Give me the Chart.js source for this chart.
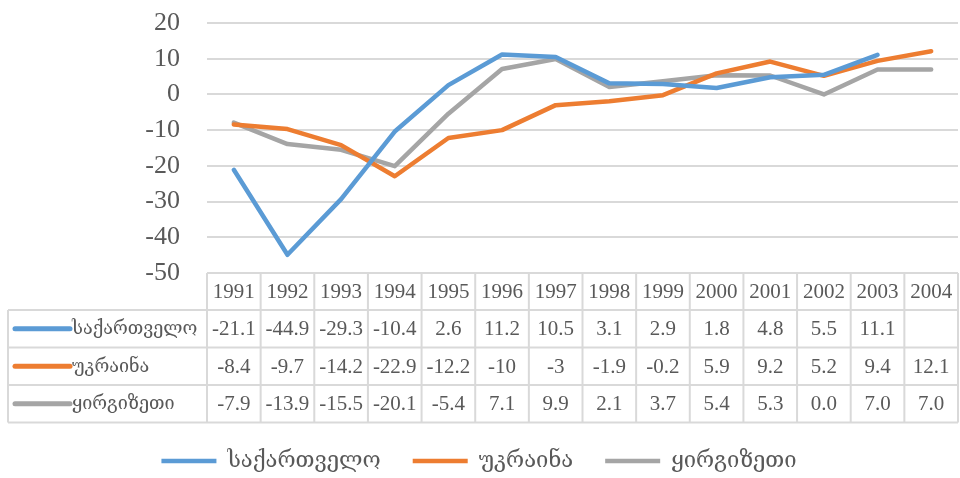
<!DOCTYPE html>
<html>
<head>
<meta charset="utf-8">
<script src="https://cdn.jsdelivr.net/npm/chart.js@4"></script>
<style>
    html, body { margin: 0; padding: 0; background: #fff; }
    #wrap { width: 960px; height: 478px; }
</style>
</head>
<body>
<div id="wrap"><canvas id="chart"></canvas></div>
<script>
// --- Data ---
const years = ['1991', '1992', '1993', '1994', '1995', '1996', '1997', '1998', '1999', '2000', '2001', '2002', '2003', '2004'];
const georgia = [-21.1, -44.9, -29.3, -10.4, 2.6, 11.2, 10.5, 3.1, 2.9, 1.8, 4.8, 5.5, 11.1, null];
const ukraine = [-8.4, -9.7, -14.2, -22.9, -12.2, -10, -3, -1.9, -0.2, 5.9, 9.2, 5.2, 9.4, 12.1];
const kyrgyzstan = [-7.9, -13.9, -15.5, -20.1, -5.4, 7.1, 9.9, 2.1, 3.7, 5.4, 5.3, 0.0, 7.0, 7.0];
const seriesNames = ['საქართველო', 'უკრაინა', 'ყირგიზეთი'];
const yMin = -50, yMax = 20, yStep = 10;

const colors = ['#5b9bd5', '#ed7d31', '#a5a5a5'];
const textColor = '#595959';
const gridColor = '#d9d9d9';
const fontFamily = '"Liberation Serif", "DejaVu Serif", serif';

// table cell text: kyrgyz row keeps one decimal like the source sheet
function cellText(seriesIndex, v) {
    if (v === null) return '';
    return seriesIndex === 2 ? v.toFixed(1) : String(v);
}

// --- Data table under the plot ---
const dataTable = {
    id: 'dataTable',
    beforeInit(chart) {
        // keep the legend block a fixed height
        const fit = chart.legend.fit;
        chart.legend.fit = function () {
            fit.call(this);
            this.height = 60;
        };
    },
    afterDraw(chart) {
        const ctx = chart.ctx;
        const x = chart.scales.x;
        const top = chart.chartArea.bottom;
        const left = 8;
        const colW = (x.right - x.left) / years.length;
        const rowH = [37, 37.5, 37.5, 37.5];
        const rows = chart.data.datasets;
        let bottom = top + rowH.reduce((a, b) => a + b, 0);

        ctx.save();
        ctx.strokeStyle = gridColor;
        ctx.lineWidth = 2;

        // horizontal lines
        let y = top;
        ctx.beginPath();
        ctx.moveTo(x.left, y); ctx.lineTo(x.right, y);
        rowH.forEach((h) => {
            y += h;
            ctx.moveTo(left, y); ctx.lineTo(x.right, y);
        });
        // vertical lines
        for (let i = 0; i <= years.length; i++) {
            const cx = x.left + i * colW;
            ctx.moveTo(cx, top); ctx.lineTo(cx, bottom);
        }
        ctx.moveTo(left, top + rowH[0]); ctx.lineTo(left, bottom);
        ctx.stroke();

        ctx.fillStyle = textColor;
        ctx.textAlign = 'center';
        ctx.textBaseline = 'middle';
        ctx.font = '21px ' + fontFamily;

        // header
        years.forEach((yr, i) => {
            ctx.fillText(yr, x.getPixelForValue(i), top + rowH[0] / 2 + 1);
        });

        // body rows
        let rowTop = top + rowH[0];
        rows.forEach((ds, r) => {
            const cy = rowTop + rowH[r + 1] / 2 + 1;
            ctx.font = '21px ' + fontFamily;
            ds.data.forEach((v, i) => {
                ctx.fillText(cellText(r, v), x.getPixelForValue(i), cy);
            });
            // key line + name
            ctx.strokeStyle = ds.borderColor;
            ctx.lineWidth = 5;
            ctx.lineCap = 'round';
            ctx.beginPath();
            ctx.moveTo(left + 7, cy - 1);
            ctx.lineTo(left + 62, cy - 1);
            ctx.stroke();
            ctx.textAlign = 'left';
            ctx.font = '18px ' + fontFamily;
            ctx.fillText(ds.label, left + 64, cy);
            ctx.textAlign = 'center';
            rowTop += rowH[r + 1];
        });
        ctx.restore();
    }
};

// --- Chart ---
const ctx = document.getElementById('chart').getContext('2d');
const seriesValues = [georgia, ukraine, kyrgyzstan];

new Chart(ctx, {
    type: 'line',
    data: {
        labels: years,
        datasets: seriesValues.map((vals, i) => ({
            label: seriesNames[i],
            data: vals,
            borderColor: colors[i],
            backgroundColor: colors[i],
            borderWidth: 4.5,
            borderCapStyle: 'round',
            borderJoinStyle: 'round',
            pointRadius: 0,
            tension: 0,
            spanGaps: false
        }))
    },
    options: {
        responsive: true,
        maintainAspectRatio: false,
        animation: false,
        layout: { padding: { top: 23, right: 2, bottom: 0, left: 0 } },
        plugins: {
            tooltip: { enabled: false },
            legend: {
                position: 'bottom',
                labels: {
                    usePointStyle: true,
                    pointStyle: 'line',
                    pointStyleWidth: 55,
                    boxHeight: 5,
                    padding: 32,
                    color: textColor,
                    font: { family: fontFamily, size: 22 }
                }
            }
        },
        scales: {
            x: {
                offset: true,
                grid: { display: false },
                border: { display: false },
                ticks: { display: false },
                afterFit: (scale) => { scale.height = 145; }
            },
            y: {
                min: yMin,
                max: yMax,
                ticks: {
                    stepSize: yStep,
                    autoSkip: false,
                    padding: 27,
                    color: textColor,
                    font: { family: fontFamily, size: 26 }
                },
                grid: { color: gridColor, lineWidth: 2, drawTicks: false },
                border: { display: false },
                afterFit: (scale) => {
                    scale.width = 207;
                    scale.paddingTop = 14;
                    scale.paddingBottom = 14;
                }
            }
        }
    },
    plugins: [dataTable]
});
</script>
</body>
</html>
